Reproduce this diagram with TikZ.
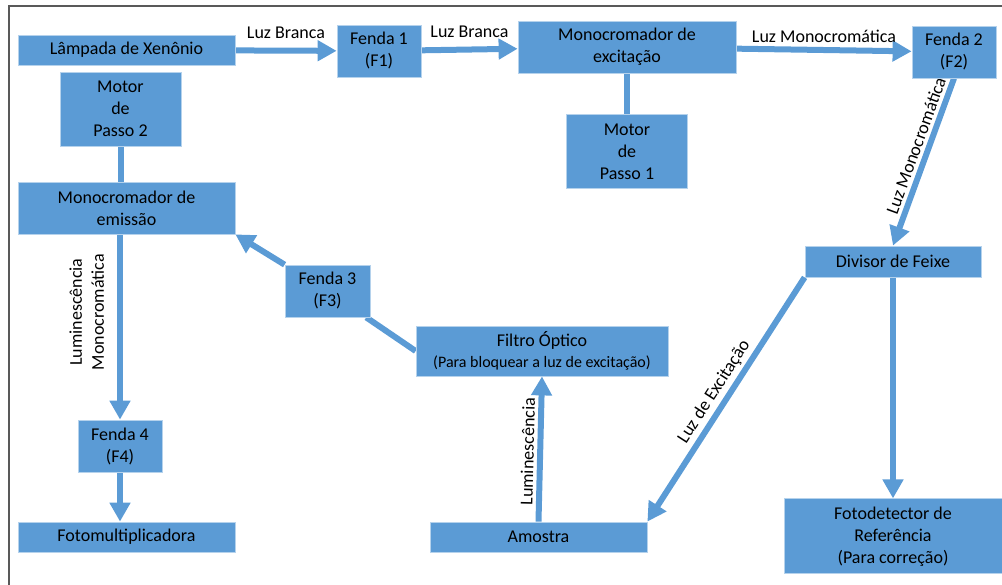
\documentclass[tikz,border=0pt]{standalone}
\usepackage{fontspec}
\setmainfont{Carlito}
\usetikzlibrary{arrows.meta,positioning,backgrounds}
\definecolor{azul}{HTML}{5B9BD5}
\definecolor{moldura}{HTML}{595959}
\begin{document}
\begin{tikzpicture}[x=1pt,y=-1pt,font=\fontsize{18}{22}\selectfont,
 caixa/.style={fill=azul,draw=azul!45!white,line width=0.8pt,align=center,inner sep=0pt},
 faixa/.style={caixa,minimum width=217pt,minimum height=30pt},
 bloco/.style={caixa,minimum width=217pt,minimum height=52pt},
 fenda/.style={caixa,minimum width=84pt,minimum height=52pt},
 motor/.style={caixa,minimum width=121pt,minimum height=74pt},
 seta/.style={-{Triangle[length=19pt,width=20pt]},line width=6pt,draw=azul},
 haste/.style={line width=6pt,draw=azul}]
\useasboundingbox (0,0) rectangle (1002,585);
\draw[moldura,line width=1.5pt] (9,585) -- (9,6) -- (1002,6);
\node[faixa] (lampada) at (126.5,50) {Lâmpada de Xenônio};
\node[fenda] (fenda1) at (379,51) {Fenda 1\\(F1)};
\node[bloco,minimum width=218pt] (excitacao) at (627,47) {Monocromador de\\excitação};
\node[fenda] (fenda2) at (954,52) {Fenda 2\\(F2)};
\node[motor,below=41pt of excitacao] (motor1) {Motor\\de\\Passo 1};
\node[motor] (motor2) at (120.5,109) {Motor\\de\\Passo 2};
\node[bloco] (emissao) at (126.5,208) {Monocromador de\\emissão};
\node[caixa,minimum width=176pt,minimum height=31pt] (divisor) at (893,261.5) {Divisor de Feixe};
\node[fenda,minimum width=85pt] (fenda3) at (327.5,291) {Fenda 3\\(F3)};
\node[caixa,minimum width=252pt,minimum height=50pt] (filtro) at (542,351) {Filtro Óptico\\[-1pt]\fontsize{16}{19}\selectfont(Para bloquear a luz de excitação)};
\node[fenda] (fenda4) at (120,446) {Fenda 4\\(F4)};
\node[faixa] (fotomult) at (126.5,537) {Fotomultiplicadora};
\node[faixa] (amostra) at (538.5,537) {Amostra};
\node[caixa,minimum width=218pt,minimum height=75pt,below=221pt of divisor] (fotodet) {Fotodetector de\\Referência\\(Para correção)};
% feixes de luz
\begin{scope}[on background layer]
\draw[seta] (lampada) -- node[above=6pt]{Luz Branca} (fenda1);
\draw[seta] (fenda1) -- node[above=6pt]{Luz Branca} (excitacao);
\draw[seta] (excitacao) -- node[above=1pt]{Luz Monocromática} (fenda2);
\draw[haste] (excitacao) -- (motor1);
\draw[haste] (motor2.south) -- (motor2.south |- emissao.north);
\draw[seta] (fenda2.south) -- node[sloped,above,pos=0.43]{Luz Monocromática} (divisor.north);
\draw[seta] (divisor.south west) -- node[sloped,above]{Luz de Excitação} (amostra.north east);
\draw[seta] (divisor) -- (fotodet);
\draw[seta] (amostra.north) -- node[sloped,above,pos=0.48]{Luminescência} (filtro.south);
\draw[haste] (filtro.west) -- (fenda3);
\draw[seta] (fenda3) -- (emissao.south east);
\draw[seta] (emissao.south -| fenda4) -- node[rotate=90,anchor=south,inner ysep=13pt,align=center,pos=0.42]{Luminescência\\Monocromática} (fenda4.north);
\draw[seta] (fenda4) -- (fenda4 |- fotomult.north);
\end{scope}
\end{tikzpicture}
\end{document}
